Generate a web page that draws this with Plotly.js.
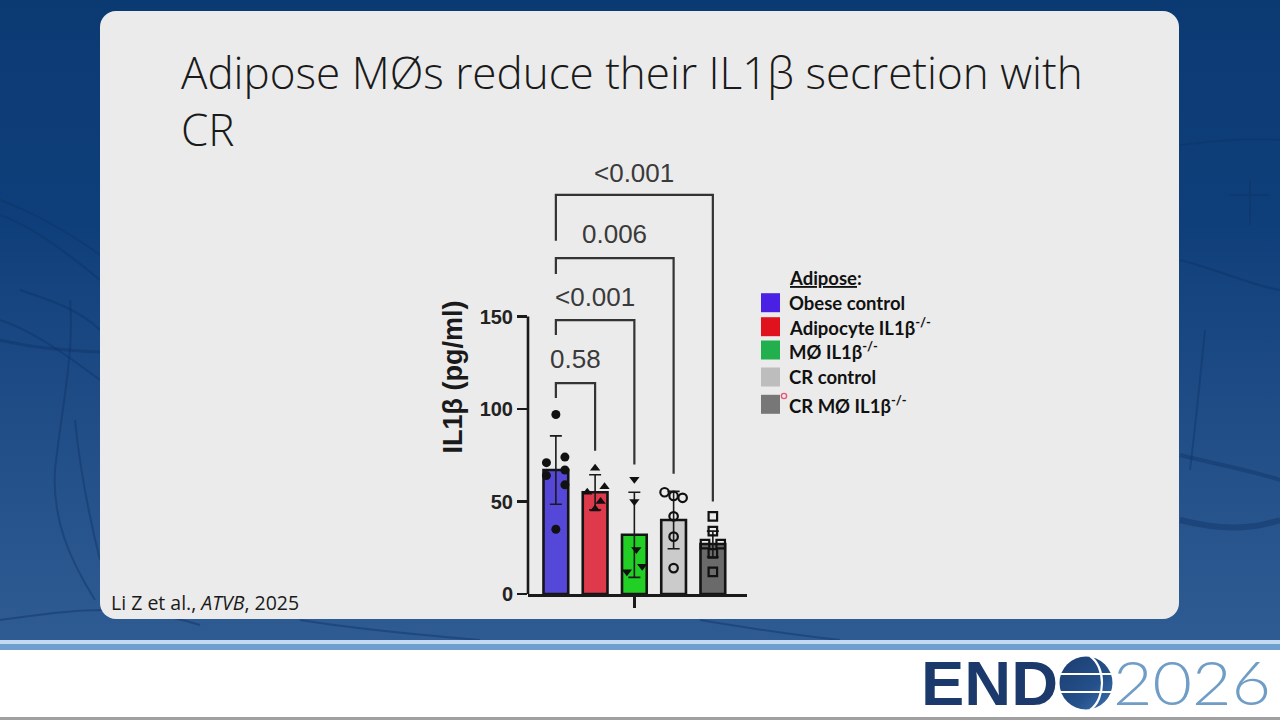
<!DOCTYPE html>
<html><head><meta charset="utf-8">
<script src="https://cdn.plot.ly/plotly-3.0.1.min.js"></script>
<style>
html,body{margin:0;padding:0;width:1280px;height:720px;overflow:hidden;background:#fff;}
#bg{position:absolute;left:0;top:0;width:1280px;height:640px;background:linear-gradient(#0b3a73 0%,#0f3f7a 35%,#234f88 70%,#2e5b92 100%);}
#veins{position:absolute;left:0;top:0;}
#stripe1{position:absolute;left:0;top:640px;width:1280px;height:4px;background:#c2dbf1;}
#stripe2{position:absolute;left:0;top:644px;width:1280px;height:6px;background:#6f9fd1;}
#bottomline{position:absolute;left:0;top:717px;width:1280px;height:3px;background:#a0a0a0;}
#panel{position:absolute;left:100px;top:11px;width:1079px;height:608px;background:#ebebeb;border-radius:16px;}
#chart{position:absolute;left:0;top:0;width:1280px;height:720px;}
#logo{position:absolute;left:0;top:0;}
</style>
</head><body>
<div id="bg"></div>
<svg id="veins" width="1280" height="640">
 <g fill="none" stroke="#0d3466" stroke-opacity="0.45" stroke-width="2">
  <path d="M0,200 C40,215 80,240 100,255"/>
  <path d="M0,215 C30,225 70,255 100,280"/>
  <path d="M20,290 C50,300 80,310 100,330"/>
  <path d="M0,320 C30,330 60,350 100,380"/>
  <path d="M70,300 C75,350 60,420 55,470 C52,520 70,560 95,600"/>
  <path d="M75,420 C80,470 90,520 100,560"/>
  <path d="M0,340 C20,345 50,350 100,352" stroke-width="3"/>
  <path d="M0,620 C60,612 120,600 200,625"/>
  <path d="M1180,145 C1220,140 1250,138 1280,140"/>
  <path d="M1180,260 C1220,270 1250,285 1280,290"/>
  <path d="M1205,330 C1200,380 1195,430 1190,470"/>
  <path d="M1180,455 C1220,465 1250,470 1280,480" stroke-width="4"/>
  <path d="M1180,520 C1220,530 1250,530 1280,520" stroke-width="6"/>
  <path d="M1250,180 L1250,225 M1230,195 L1270,195"/>
  <path d="M300,620 C350,628 420,635 480,640"/>
  <path d="M700,620 C760,630 800,636 840,640"/>
 </g>
</svg>
<div id="panel"></div>
<div id="stripe1"></div>
<div id="stripe2"></div>
<div id="bottomline"></div>
<div id="chart"></div>
<svg id="logo" width="1280" height="720">
 <defs>
  <linearGradient id="glob" x1="0" y1="0" x2="1" y2="1">
   <stop offset="0" stop-color="#1c3d70"/>
   <stop offset="0.6" stop-color="#24508a"/>
   <stop offset="1" stop-color="#3d72ad"/>
  </linearGradient>
 </defs>
 <text x="921" y="705" font-family="Liberation Sans, Arial, sans-serif" font-weight="bold" font-size="63" fill="#1b3a6b" textLength="137" lengthAdjust="spacingAndGlyphs">END</text>
 <circle cx="1086" cy="683" r="26.5" fill="url(#glob)"/>
 <g stroke="#ffffff" stroke-width="2.2" fill="none">
  <line x1="1059" y1="674" x2="1112" y2="674"/>
  <line x1="1059" y1="692" x2="1112" y2="692"/>
  <path d="M1090,656 C1106,667 1106,699 1090,710"/>
 </g>
 <text x="1113" y="705" font-family="Lato, 'Open Sans', sans-serif" font-weight="300" font-size="62" fill="#709dc6" textLength="158" lengthAdjust="spacingAndGlyphs">2026</text>
 <circle cx="784" cy="396" r="2.6" fill="none" stroke="#e8557a" stroke-width="1.4"/>
</svg>
<script>
// ---------------- data ----------------
const groups = ['Obese control', 'Adipocyte IL1β-/-', 'MØ IL1β-/-', 'CR control', 'CR MØ IL1β-/-'];
const legendLabels = ['Obese control', 'Adipocyte IL1β<sup>-/-</sup>', 'MØ IL1β<sup>-/-</sup>', 'CR control', 'CR MØ IL1β<sup>-/-</sup>'];
const groupIndex = [0, 1, 2, 3, 4];
const means = [67, 55, 32, 40, 27];
const sds = [18.5, 9.5, 23, 15.5, 7];

const ptsObese = [97, 74, 71, 67, 64, 59, 35];
const jitObese = [0, 0.23, -0.24, 0.23, -0.24, 0.23, 0];
const ptsAdipo = [68, 58, 55, 50, 46];
const jitAdipo = [0, 0.24, -0.2, 0.14, 0];
const ptsMac = [62, 50, 24, 15, 12];
const jitMac = [0, 0, 0.05, 0.2, -0.19];
const ptsCR = [55, 53, 52, 42, 31, 14];
const jitCR = [-0.23, 0, 0.23, 0, 0, 0];
const ptsCRMac = [42, 34, 27, 27, 22, 12];
const jitCRMac = [0, 0, -0.2, 0.2, 0, 0];

const yTicks = [0, 50, 100, 150];

// comparisons vs Obese control
const pLabels = ['0.58', '<0.001', '0.006', '<0.001'];
const pTarget = [1, 2, 3, 4];
const bracketTop = [114, 148, 181.6, 215.7];
const bracketLeftEnd = [106, 140, 173, 191];
const bracketRightEnd = [77.5, 70, 65, 50];
const pLabelY = [127.2, 160.3, 194.6, 227.5];

// ---------------- styles ----------------
const barColors = ['#5548d8', '#de3a4b', '#22cf25', '#cbcbcb', '#6a6a6a'];
const legendColors = ['#4a20e4', '#e0121e', '#22b04e', '#bdbdbd', '#777777'];
const symbols = ['circle', 'triangle-up', 'triangle-down', 'circle-open', 'square-open'];

const L = 528, R = 747, T = 160, B = 594;
const W = R - L, H = B - T;
const pxX = x => (x - L) / W;
const pxY = y => (B - y) / H;
const yMax = H / 1.85;

const traces = [];
traces.push({
  type: 'bar', x: groupIndex, y: means, width: 0.63,
  marker: {color: barColors, line: {color: '#141414', width: 2.6}},
  error_y: {type: 'data', array: sds, visible: true, color: '#1a1a1a', thickness: 1.6, width: 6},
  showlegend: false, hoverinfo: 'skip'
});
const allPts = [ptsObese, ptsAdipo, ptsMac, ptsCR, ptsCRMac];
const allJit = [jitObese, jitAdipo, jitMac, jitCR, jitCRMac];
allPts.forEach((pts, g) => {
  const open = symbols[g].indexOf('open') >= 0;
  traces.push({
    type: 'scatter', mode: 'markers', name: groups[g],
    x: pts.map((v, i) => g + allJit[g][i]), y: pts,
    marker: {symbol: symbols[g], size: open ? 8.5 : 9, color: '#111',
             line: {color: '#111', width: open ? 2.2 : 0}},
    showlegend: false, hoverinfo: 'skip', cliponaxis: false
  });
});
pTarget.forEach((k, i) => {
  traces.push({
    type: 'scatter', mode: 'lines',
    x: [0, 0, k, k], y: [bracketLeftEnd[i], bracketTop[i], bracketTop[i], bracketRightEnd[i]],
    line: {color: '#333', width: 2.2}, showlegend: false, hoverinfo: 'skip'
  });
});

const annotations = pLabels.map((t, i) => ({
  x: pTarget[i] / 2, y: pLabelY[i], xref: 'x', yref: 'y', text: t, showarrow: false,
  xanchor: 'center', yanchor: 'middle',
  font: {family: 'Liberation Sans, Arial, sans-serif', size: 26, color: '#3a3a3a'}
}));
annotations.push({
  xref: 'paper', yref: 'paper', x: pxX(109), y: pxY(602), xanchor: 'left', yanchor: 'middle',
  text: 'Li Z et al., <i>ATVB</i>, 2025', showarrow: false,
  font: {family: 'Open Sans, sans-serif', size: 19.5, color: '#1a1a1a'}
});
annotations.push({
  xref: 'paper', yref: 'paper', x: pxX(787), y: pxY(278), xanchor: 'left', yanchor: 'middle',
  text: '<u>Adipose</u>:', showarrow: false,
  font: {family: 'Lato, sans-serif', size: 18.5, color: '#111', weight: 'bold'}
});
const legendY = [302.7, 326.7, 350, 377, 404.3];
const shapes = [];
legendLabels.forEach((t, i) => {
  annotations.push({
    xref: 'paper', yref: 'paper', x: pxX(787), y: pxY(legendY[i]), xanchor: 'left', yanchor: 'middle',
    text: t, showarrow: false,
    font: {family: 'Lato, sans-serif', size: 18.5, color: '#111', weight: 'bold'}
  });
  shapes.push({
    type: 'rect', xref: 'paper', yref: 'paper', x0: pxX(761), x1: pxX(780),
    y0: pxY(legendY[i] + 9.5), y1: pxY(legendY[i] - 9.5),
    fillcolor: legendColors[i], line: {width: 0}
  });
});
shapes.push({type: 'line', xref: 'paper', yref: 'y', x0: 0, x1: 0, y0: -0.7, y1: yTicks[yTicks.length - 1],
  line: {color: '#1a1a1a', width: 2.6}});

const layout = {
  width: 1280, height: 720,
  margin: {l: L, r: 1280 - R, t: T, b: 720 - B, pad: 0},
  paper_bgcolor: 'rgba(0,0,0,0)', plot_bgcolor: 'rgba(0,0,0,0)',
  title: {
    text: 'Adipose MØs reduce their IL1β secretion with<br>CR',
    xref: 'container', yref: 'container', x: 181 / 1280, xanchor: 'left',
    y: 1 - 89 / 720, yanchor: 'top',
    font: {family: 'Open Sans, sans-serif', size: 44, color: '#1a1a1a', weight: 300}
  },
  xaxis: {
    range: [-0.71, 4.87], showline: true, linecolor: '#1a1a1a', linewidth: 2.6,
    showgrid: false, zeroline: false, ticks: 'outside', tickvals: [2], showticklabels: false,
    ticklen: 11, tickwidth: 2.4, tickcolor: '#1a1a1a', fixedrange: true
  },
  yaxis: {
    range: [0, yMax], showline: false, showgrid: false, zeroline: false,
    tickvals: yTicks, ticktext: yTicks.map(String), ticks: 'outside', ticklen: 10, tickwidth: 2.4,
    tickcolor: '#1a1a1a',
    tickfont: {family: 'Liberation Sans, Arial, sans-serif', size: 20, color: '#222', weight: 'bold'},
    title: {text: 'IL1β (pg/ml)', standoff: 9,
      font: {family: 'Liberation Sans, Arial, sans-serif', size: 27, color: '#1a1a1a', weight: 'bold'}},
    fixedrange: true
  },
  annotations: annotations,
  shapes: shapes,
  showlegend: false
};
Plotly.newPlot('chart', traces, layout, {displayModeBar: false, staticPlot: true});
</script>
</body></html>
